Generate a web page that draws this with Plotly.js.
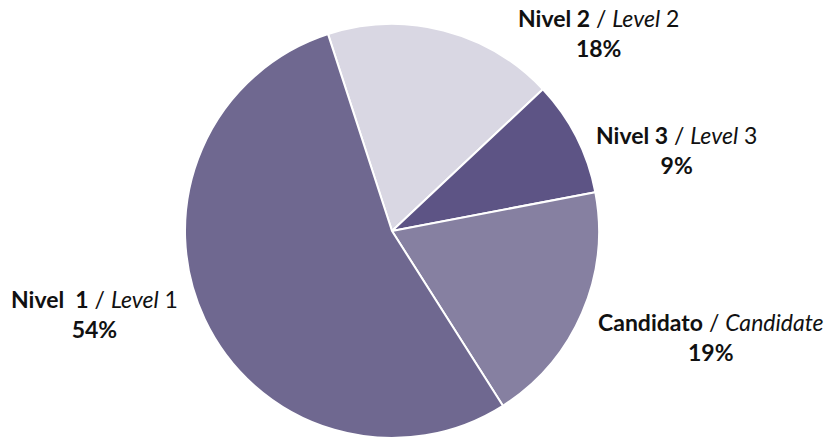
<!DOCTYPE html>
<html>
<head>
<meta charset="utf-8">
<script src="https://cdn.plot.ly/plotly-3.0.1.min.js"></script>
<style>
html,body{margin:0;padding:0;overflow:hidden;background:#fff;}
#chart{width:827px;height:462px;}
</style>
</head>
<body>
<div id="chart"></div>
<script>
const labelsEs = ["Nivel 2", "Nivel 3", "Candidato", "Nivel\u00a0 1"];
const labelsEn = ["Level", "Level", "Candidate", "Level"];
const labelsEnNum = [" 2", " 3", "", " 1"];
const values = [18, 9, 19, 54];
const colors = ["#d9d7e3", "#5d5485", "#8680a1", "#6f6890"];

// label anchor positions (pixels from top-left)
const labelPos = [[598, 33], [676, 150], [711, 337], [94, 314]];

const W = 827, H = 462;
const total = values.reduce((a, b) => a + b, 0);

const annotations = values.map((v, i) => ({
  xref: "paper", yref: "paper",
  x: labelPos[i][0] / W, y: 1 - labelPos[i][1] / H,
  xanchor: "center", yanchor: "middle",
  showarrow: false, align: "center",
  text: "<b>" + labelsEs[i] + "</b> / <i>" + labelsEn[i] + "</i>" + labelsEnNum[i] +
        "<br><b>" + Math.round(v / total * 100) + "%</b>",
  font: {family: "Lato, 'Open Sans', sans-serif", size: 23, color: "#111111"}
}));

Plotly.newPlot("chart", [{
  type: "pie",
  labels: labelsEs,
  values: values,
  sort: false,
  direction: "clockwise",
  rotation: -18,
  textinfo: "none",
  hoverinfo: "label+percent",
  marker: {colors: colors, line: {color: "#ffffff", width: 2}},
  domain: {x: [185 / W, 599 / W], y: [0, 1]}
}], {
  width: W, height: H,
  margin: {l: 0, r: 0, t: 0, b: 0},
  showlegend: false,
  paper_bgcolor: "#ffffff",
  annotations: annotations
}, {displayModeBar: false, staticPlot: true});
</script>
</body>
</html>
